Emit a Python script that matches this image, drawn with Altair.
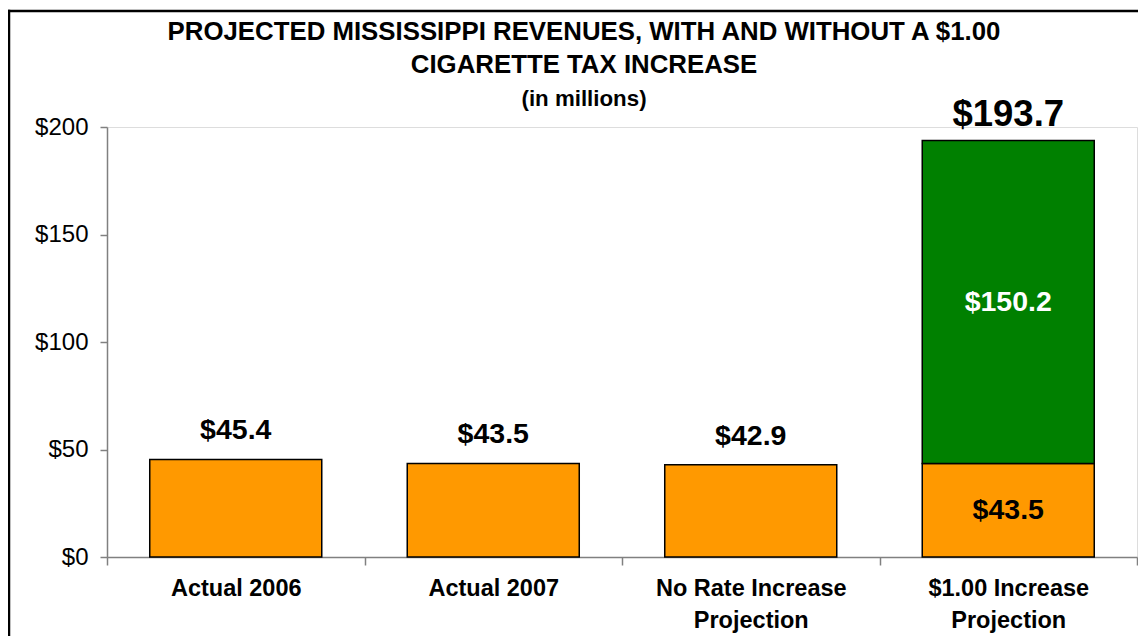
import altair as alt
import pandas as pd

categories = ["Actual 2006", "Actual 2007", "No Rate Increase|Projection", "$1.00 Increase|Projection"]
base_values = [45.4, 43.5, 42.9, 43.5]
increase_values = [0.0, 0.0, 0.0, 150.2]
segments = ["Current revenue", "Added by $1.00 increase"]
seg_colors = ["#FF9900", "#008000"]
y_ticks = [0, 50, 100, 150, 200]
title_lines = ["PROJECTED MISSISSIPPI REVENUES, WITH AND WITHOUT A $1.00", "CIGARETTE TAX INCREASE"]
subtitle_text = "(in millions)"

rows = []
for c, b, inc in zip(categories, base_values, increase_values):
    rows.append({"cat": c, "seg": segments[0], "value": b, "ord": 0})
    if inc > 0:
        rows.append({"cat": c, "seg": segments[1], "value": inc, "ord": 1})
bars_df = pd.DataFrame(rows)

above = []
inside = []
totals = []
for c, b, inc in zip(categories, base_values, increase_values):
    if inc > 0:
        inside.append({"cat": c, "y": b / 2, "label": f"${b:.1f}", "col": "black"})
        inside.append({"cat": c, "y": b + inc / 2, "label": f"${inc:.1f}", "col": "white"})
        totals.append({"cat": c, "y": b + inc, "label": f"${b + inc:.1f}"})
    else:
        above.append({"cat": c, "y": b, "label": f"${b:.1f}"})
above_df = pd.DataFrame(above)
inside_df = pd.DataFrame(inside)
totals_df = pd.DataFrame(totals)

FONT = "Liberation Sans"

x_enc = alt.X(
    "cat:N", sort=categories, title=None,
    scale=alt.Scale(paddingInner=0, paddingOuter=0),
    axis=alt.Axis(
        labelExpr="split(datum.label, '|')", labelAngle=0, labelLimit=400,
        labelFontSize=23.5, labelFontWeight="bold", labelFont=FONT, labelColor="black",
        labelLineHeight=32, labelBaseline="top", labelPadding=11,
        tickBand="extent", tickSize=8, tickColor="#808080", domainColor="#808080",
        domainWidth=1.5, tickWidth=1.5,
    ),
)
y_scale = alt.Scale(domain=[0, 200], nice=False)

bars = alt.Chart(bars_df).mark_bar(
    width=alt.RelativeBandSize(0.668), stroke="black", strokeWidth=1.5
).encode(
    x=x_enc,
    y=alt.Y(
        "sum(value):Q", scale=y_scale, title=None,
        axis=alt.Axis(
            values=y_ticks, labelExpr="'$' + datum.value", grid=False,
            labelFontSize=24, labelFont=FONT, labelColor="black", labelPadding=12,
            tickSize=7, tickColor="#808080", domainColor="#808080",
            domainWidth=1.5, tickWidth=1.5,
        ),
    ),
    color=alt.Color("seg:N", scale=alt.Scale(domain=segments, range=seg_colors), legend=None),
    order=alt.Order("ord:Q", sort="ascending"),
)

above_text = alt.Chart(above_df).mark_text(
    fontSize=28.5, fontWeight="bold", font=FONT, color="black", dy=-20, baseline="alphabetic"
).encode(x=alt.X("cat:N", sort=categories), y=alt.Y("y:Q", scale=y_scale), text="label:N")

total_text = alt.Chart(totals_df).mark_text(
    fontSize=36.5, fontWeight="bold", font=FONT, color="black", dy=-15, baseline="alphabetic"
).encode(x=alt.X("cat:N", sort=categories), y=alt.Y("y:Q", scale=y_scale), text="label:N")

inside_text = alt.Chart(inside_df).mark_text(
    fontSize=28.5, fontWeight="bold", font=FONT, baseline="middle"
).encode(
    x=alt.X("cat:N", sort=categories), y=alt.Y("y:Q", scale=y_scale), text="label:N",
    color=alt.Color("col:N", scale=None),
)

title1 = alt.Chart(alt.Data(values=[{"t": title_lines[0]}])).mark_text(
    fontSize=25.8, fontWeight="bold", font=FONT, color="black", baseline="alphabetic"
).encode(x=alt.value(477), y=alt.value(-87.5), text="t:N")
title2 = alt.Chart(alt.Data(values=[{"t": title_lines[1]}])).mark_text(
    fontSize=25.8, fontWeight="bold", font=FONT, color="black", baseline="alphabetic"
).encode(x=alt.value(477), y=alt.value(-54), text="t:N")
title3 = alt.Chart(alt.Data(values=[{"t": subtitle_text}])).mark_text(
    fontSize=22.3, fontWeight="bold", font=FONT, color="black", baseline="alphabetic"
).encode(x=alt.value(477), y=alt.value(-21), text="t:N")

frame_top = alt.Chart(alt.Data(values=[{"f": 1}])).mark_rule(
    stroke="black", strokeWidth=2.5
).encode(x=alt.value(-99.2), x2=alt.value(1040), y=alt.value(-116))
frame_left = alt.Chart(alt.Data(values=[{"f": 1}])).mark_rule(
    stroke="black", strokeWidth=2.5
).encode(x=alt.value(-98), y=alt.value(-117.2), y2=alt.value(540))

chart = alt.layer(
    bars, above_text, total_text, inside_text, title1, title2, title3, frame_top, frame_left
).properties(
    width=1030, height=430,
    padding={"left": 99, "top": 119, "right": 1, "bottom": 79},
    autosize=alt.AutoSizeParams(type="none"),
).configure_view(stroke="transparent").configure(background="white")

chart.save("out.html", embed_options={"renderer": "svg", "actions": False})
